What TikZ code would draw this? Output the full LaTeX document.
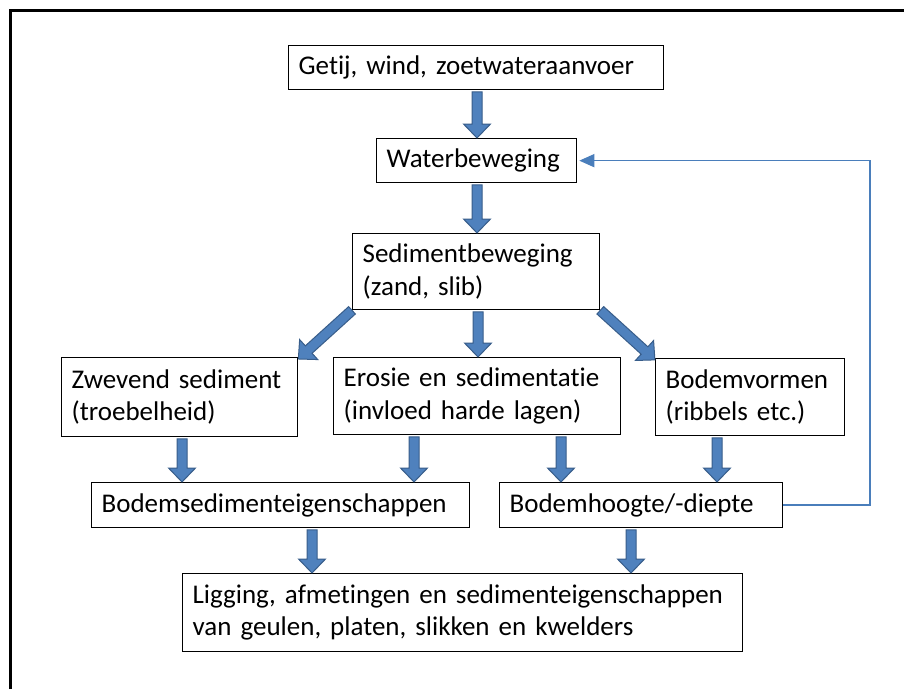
\documentclass[tikz,border=0pt]{standalone}
\usepackage{fontspec}
\setmainfont{Carlito}[Ligatures=NoCommon]
\usetikzlibrary{arrows.meta}
\definecolor{afill}{HTML}{4F81BD}
\definecolor{aedge}{HTML}{385D8A}
\definecolor{fline}{HTML}{4A7EBB}
\tikzset{
  box/.style={draw=black, line width=1.3pt, fill=white, inner xsep=10pt, inner ysep=0pt,
    align=left, anchor=north west, font=\fontsize{27}{32.5}\selectfont},
  blockarrow/.style={fill=afill, draw=aedge, line width=1pt, line join=miter},
  feedback/.style={draw=fline, line width=1.5pt, -{Triangle[length=15pt,width=13pt]}, shorten >=2pt}
}
\newcommand\blockarr[2]{%
  \path #1 coordinate (bas) #2 coordinate (bae);
  \pgfpointdiff{\pgfpointanchor{bas}{center}}{\pgfpointanchor{bae}{center}}%
  \pgfgetlastxy{\badx}{\bady}%
  \pgfmathsetmacro\baang{atan2(\bady,\badx)}%
  \pgfmathsetmacro\balen{veclen(\badx,\bady)}%
  \pgfmathsetmacro\bahead{\balen-14}%
  \filldraw[blockarrow, shift={(bas)}, rotate=\baang]
    (0pt,-5pt) -- (\bahead pt,-5pt) -- (\bahead pt,-13.5pt) -- (\balen pt,0pt)
    -- (\bahead pt,13.5pt) -- (\bahead pt,5pt) -- (0pt,5pt) -- cycle;
}
\begin{document}
\begin{tikzpicture}[x=1pt, y=-1pt]
\useasboundingbox (0,0) rectangle (904,689);
\fill[white] (0,0) rectangle (904,689);
\draw[line width=3pt] (10,689) -- (10,10.5) -- (904,10.5);

\node[box, text width=355pt, minimum height=44pt] (getij) at (288,45) {Getij, wind, zoetwateraanvoer};
\node[box, text width=180pt, minimum height=44pt] (water) at (376,138) {Waterbeweging};
\node[box, text width=227pt, minimum height=76pt] (sed) at (352,233) {Sedimentbeweging\\(zand, slib)};
\node[box, text width=216pt, minimum height=79pt] (zwev) at (61,357) {Zwevend sediment\\(troebelheid)};
\node[box, text width=267pt, minimum height=77pt] (eros) at (333,357) {Erosie en sedimentatie\\(invloed harde lagen)};
\node[box, text width=169pt, minimum height=77pt] (bodv) at (655,358) {Bodemvormen\\(ribbels etc.)};
\node[box, text width=358pt, minimum height=45pt] (bsed) at (91,482) {Bodemsedimenteigenschappen};
\node[box, text width=263pt, minimum height=45pt] (bhoog) at (499,482) {Bodemhoogte/-diepte};
\node[box, text width=540pt, minimum height=78pt] (lig) at (182,573) {Ligging, afmetingen en sedimenteigenschappen\\van geulen, platen, slikken en kwelders};

\coordinate (xa) at (477,0);
\coordinate (xb) at (478,0);
\coordinate (xc) at (182,0);
\coordinate (xd) at (414,0);
\coordinate (xe) at (561,0);
\coordinate (xf) at (717,0);
\coordinate (xg) at (312,0);
\coordinate (xh) at (631,0);
\coordinate (fbx) at (870,0);

\blockarr{([yshift=-1.5pt]xa |- getij.south)}{(xa |- water.north)}
\blockarr{([yshift=-1.5pt]xa |- water.south)}{(xa |- sed.north)}
\blockarr{([yshift=-1.5pt]xb |- sed.south)}{(xb |- eros.north)}
\blockarr{(sed.south west)}{([yshift=-2pt]zwev.north east)}
\blockarr{(sed.south east)}{([yshift=-2pt]bodv.north west)}
\blockarr{([yshift=-1.5pt]xc |- zwev.south)}{(xc |- bsed.north)}
\blockarr{([yshift=-1.5pt]xd |- eros.south)}{(xd |- bsed.north)}
\blockarr{([yshift=-1.5pt]xe |- eros.south)}{(xe |- bhoog.north)}
\blockarr{([yshift=-1.5pt]xf |- bodv.south)}{(xf |- bhoog.north)}
\blockarr{([yshift=-1.5pt]xg |- bsed.south)}{(xg |- lig.north)}
\blockarr{([yshift=-1.5pt]xh |- bhoog.south)}{(xh |- lig.north)}

\draw[feedback] (bhoog.east) -- (bhoog.east -| fbx) -- (water.east -| fbx) -- (water.east);
\end{tikzpicture}
\end{document}
